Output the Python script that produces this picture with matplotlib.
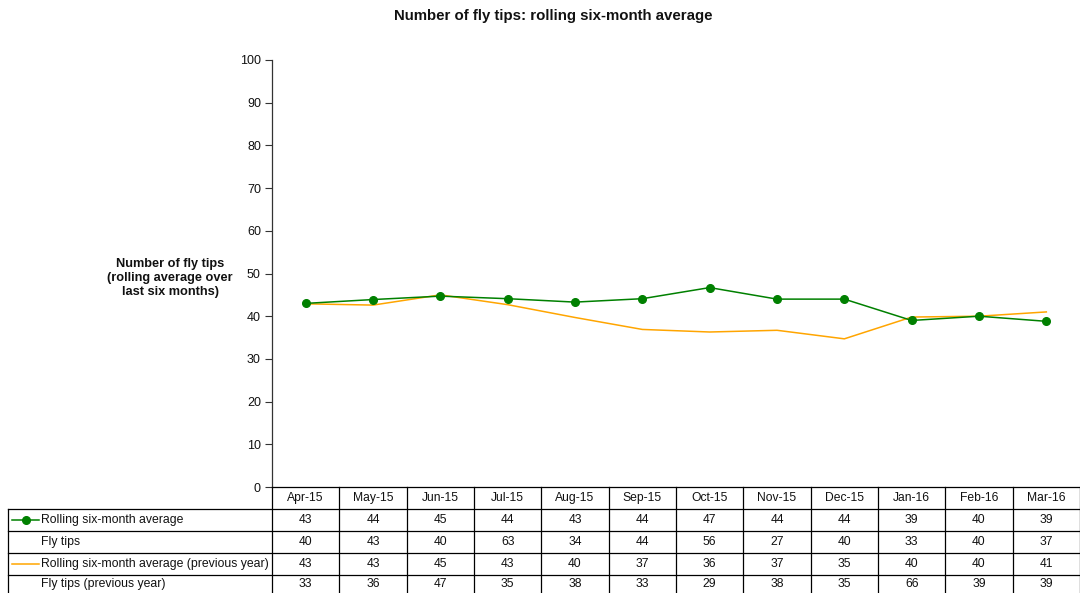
import matplotlib
matplotlib.use("Agg")
import matplotlib.pyplot as plt
import matplotlib.transforms as mtransforms
from matplotlib.lines import Line2D

plt.rcParams['font.family'] = ['Liberation Sans', 'DejaVu Sans']

months = ["Apr-15", "May-15", "Jun-15", "Jul-15", "Aug-15", "Sep-15",
          "Oct-15", "Nov-15", "Dec-15", "Jan-16", "Feb-16", "Mar-16"]
rolling = [43.0, 43.9, 44.7, 44.1, 43.3, 44.1, 46.7, 44.0, 44.0, 39.0, 40.0, 38.8]
fly_tips = [40, 43, 40, 63, 34, 44, 56, 27, 40, 33, 40, 37]
rolling_prev = [42.9, 42.6, 45.0, 42.7, 39.7, 36.9, 36.3, 36.7, 34.7, 39.8, 40.0, 41.0]
fly_tips_prev = [33, 36, 47, 35, 38, 33, 29, 38, 35, 66, 39, 39]

row_labels = ["Rolling six-month average", "Fly tips",
              "Rolling six-month average (previous year)", "Fly tips (previous year)"]
rows = [rolling, fly_tips, rolling_prev, fly_tips_prev]

W, H = 1080, 593
GREEN = "#008000"
ORANGE = "#FFA500"
TXT = "#111111"

fig = plt.figure(figsize=(W / 100, H / 100), dpi=100)
fig.patch.set_facecolor("white")

x_left, x_right = 272, 1080
y_top, y_bot = 60, 487
ax = fig.add_axes([x_left / W, 1 - y_bot / H, (x_right - x_left) / W, (y_bot - y_top) / H])

x = list(range(len(months)))
ax.plot(x, rolling, color=GREEN, lw=1.1, marker="o", ms=5.5, zorder=3)
ax.plot(x, rolling_prev, color=ORANGE, lw=1.1, zorder=2)

ax.set_xlim(-0.5, len(months) - 0.5)
ax.set_ylim(0, 100)
ax.set_yticks(range(0, 101, 10))
ax.tick_params(axis="y", direction="out", length=5, width=0.8, labelsize=9, pad=3,
               color="#333333", labelcolor=TXT)
ax.set_xticks([])
for s in ["top", "right"]:
    ax.spines[s].set_visible(False)
ax.spines["left"].set_linewidth(0.9)
ax.spines["left"].set_color("#333333")
ax.spines["bottom"].set_linewidth(0.9)
ax.spines["bottom"].set_color("black")


def fy(py):
    return 1 - py / H


fig.text(553 / W, fy(16), "Number of fly tips: rolling six-month average",
         ha="center", va="center", fontsize=10.8, fontweight="bold", color=TXT)
fig.text(170 / W, fy(278), "Number of fly tips\n(rolling average over\nlast six months)",
         ha="center", va="center", fontsize=9.2, fontweight="bold", linespacing=1.22, color=TXT)

# Data table
trans = mtransforms.blended_transform_factory(ax.transData, fig.transFigure)
row_edges = [487, 509, 531, 553, 575, 593]

for i in range(len(months) + 1):
    xb = i - 0.5
    ax.add_line(Line2D([xb, xb], [fy(487), fy(593)], transform=trans, color="black",
                       lw=0.9, clip_on=False))
for yb in row_edges[1:-1]:
    fig.add_artist(Line2D([8 / W, 1], [fy(yb), fy(yb)], color="black", lw=0.9))
fig.add_artist(Line2D([8 / W, 8 / W], [fy(509), fy(593)], color="black", lw=0.9))

for i, m in enumerate(months):
    ax.text(i, fy(498), m, transform=trans, ha="center", va="center", fontsize=8.7,
            clip_on=False, color=TXT)

for r, (lab, vals) in enumerate(zip(row_labels, rows)):
    yc = fy((row_edges[r + 1] + row_edges[r + 2]) / 2)
    fig.text(41 / W, yc, lab, ha="left", va="center", fontsize=8.8, color=TXT)
    for i, v in enumerate(vals):
        ax.text(i, yc, f"{v:.0f}", transform=trans, ha="center", va="center",
                fontsize=8.7, clip_on=False, color=TXT)

yk0 = fy(520)
fig.add_artist(Line2D([12 / W, 39 / W], [yk0, yk0], color=GREEN, lw=1.1))
fig.add_artist(Line2D([25.5 / W], [yk0], color=GREEN, marker="o", ms=5.5, lw=0))
yk2 = fy(564)
fig.add_artist(Line2D([12 / W, 39 / W], [yk2, yk2], color=ORANGE, lw=1.1))

fig.savefig("out.png", dpi=100)
